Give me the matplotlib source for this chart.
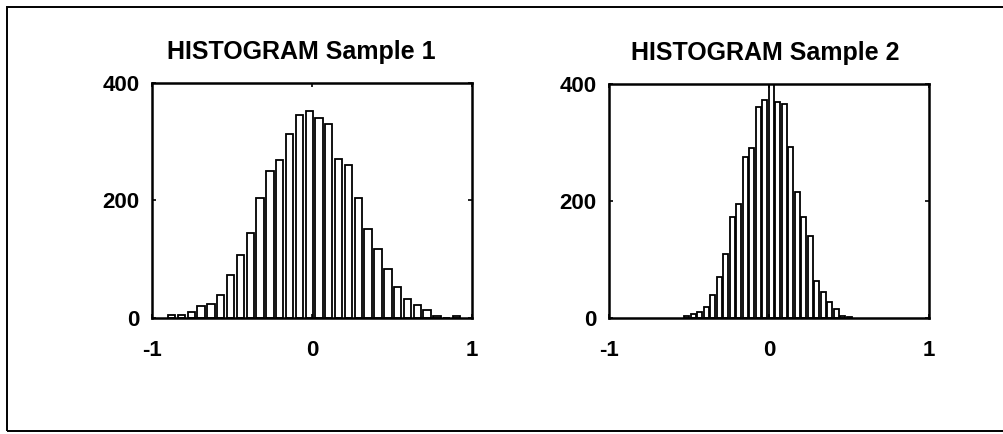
import numpy as np
import matplotlib
matplotlib.use('Agg')
import matplotlib.pyplot as plt
from matplotlib.patches import Rectangle

plt.rcParams['font.family'] = ['Liberation Sans', 'DejaVu Sans']
plt.rcParams['font.weight'] = 'bold'
plt.rcParams['axes.unicode_minus'] = False

# bin centres and counts
centers_1 = [-0.877, -0.816, -0.754, -0.693, -0.631, -0.570, -0.509, -0.447,
             -0.386, -0.324, -0.263, -0.202, -0.140, -0.079, -0.017, 0.044,
             0.105, 0.167, 0.228, 0.290, 0.351, 0.412, 0.474, 0.535, 0.597,
             0.658, 0.719, 0.781, 0.842, 0.904]
counts_1 = [5, 5, 10, 20, 24, 40, 73, 108, 144, 205, 251, 269, 313, 346, 353,
            341, 331, 271, 261, 205, 151, 117, 84, 52, 33, 22, 14, 4, 0, 3]

centers_2 = [-0.514, -0.473, -0.433, -0.392, -0.352, -0.311, -0.270, -0.230,
             -0.189, -0.149, -0.108, -0.067, -0.027, 0.014, 0.054, 0.095,
             0.136, 0.176, 0.217, 0.257, 0.298, 0.339, 0.379, 0.420, 0.460,
             0.501]
counts_2 = [3, 6, 11, 19, 40, 70, 110, 173, 195, 275, 290, 360, 372, 400, 370,
            366, 293, 215, 172, 140, 63, 44, 27, 15, 3, 2]

titles = ['HISTOGRAM Sample 1', 'HISTOGRAM Sample 2']
xticks = [-1, 0, 1]
yticks = [0, 200, 400]

W, H = 1004, 434
fig = plt.figure(figsize=(W / 100, H / 100), dpi=100)

# outer frame of the scanned page
fig.patches.append(Rectangle((7 / W, 3 / H), 1.2, (H - 10) / H,
                             transform=fig.transFigure, fill=False,
                             edgecolor='black', linewidth=1.4))

boxes = [(152, 83, 320, 235), (609, 84, 320, 234)]
title_x = [0.466, 0.4875]
data = [(centers_1, counts_1), (centers_2, counts_2)]

for (x0, y0, w, h), (cx, cy), title, tx in zip(boxes, data, titles, title_x):
    ax = fig.add_axes([x0 / W, (H - y0 - h) / H, w / W, h / H])
    pitch = np.diff(cx).mean()
    ax.bar(cx, cy, width=pitch * 0.75, color='white', edgecolor='black',
           linewidth=1.3)
    ax.set_xlim(-1, 1)
    ax.set_ylim(0, 400)
    ax.set_xticks(xticks)
    ax.set_yticks(yticks)
    ax.tick_params(direction='in', length=3, width=1.2, top=True, right=True,
                   labelsize=16)
    ax.tick_params(axis='x', pad=16)
    ax.tick_params(axis='y', pad=9)
    for s in ax.spines.values():
        s.set_linewidth(1.8)
    t = ax.set_title(title, fontsize=18, fontweight='bold', pad=17)
    t.set_x(tx)

fig.savefig('out.png', dpi=100)
